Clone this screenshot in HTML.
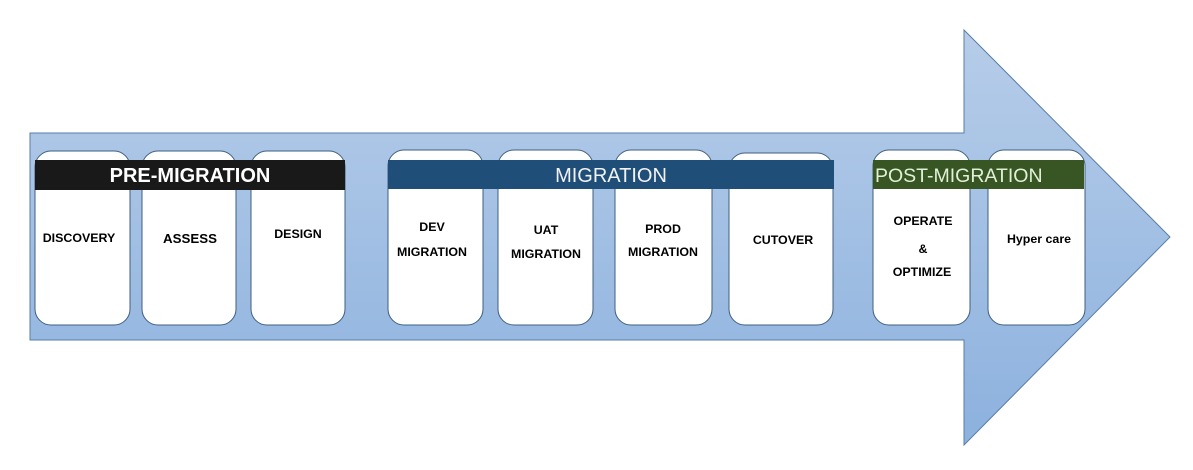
<!DOCTYPE html>
<html><head><meta charset="utf-8">
<style>
html,body{margin:0;padding:0;background:#fff;}
svg{display:block;}
text{font-family:"Liberation Sans",Arial,sans-serif;}
.b{font-weight:bold;fill:#000;font-size:12.4px;text-anchor:middle;}
</style></head>
<body>
<svg width="1193" height="470" viewBox="0 0 1193 470" xmlns="http://www.w3.org/2000/svg">
<defs>
<linearGradient id="g" x1="0" y1="30" x2="0" y2="445" gradientUnits="userSpaceOnUse">
<stop offset="0" stop-color="#b7cde9"/>
<stop offset="1" stop-color="#8cb1de"/>
</linearGradient>
</defs>
<polygon points="30,133 964,133 964,30 1170,237 964,445 964,340 30,340" fill="url(#g)" stroke="#5a7ea8" stroke-width="1"/>
<g fill="#fff" stroke="#3f5f80" stroke-width="1">
<rect x="35" y="151" width="95" height="174" rx="16"/>
<rect x="142" y="151" width="94" height="174" rx="16"/>
<rect x="251" y="151" width="94" height="174" rx="16"/>
<rect x="388" y="150" width="95" height="175" rx="16"/>
<rect x="498" y="150" width="95" height="175" rx="16"/>
<rect x="615" y="150" width="97" height="175" rx="16"/>
<rect x="729" y="153" width="104" height="172" rx="16"/>
<rect x="873" y="150" width="97" height="175" rx="16"/>
<rect x="988" y="150" width="97" height="175" rx="16"/>
</g>
<rect x="35" y="160" width="310" height="30" fill="#191919"/>
<text x="190" y="182" fill="#fff" font-size="20" font-weight="bold" text-anchor="middle">PRE-MIGRATION</text>
<rect x="388" y="160" width="446" height="29" fill="#1f4e79"/>
<text x="611" y="182" fill="#f2f2f2" font-size="20" text-anchor="middle">MIGRATION</text>
<rect x="873" y="160" width="211" height="29" fill="#375623"/>
<text x="875" y="182" fill="#e2efd9" font-size="19.5">POST-MIGRATION</text>

<text class="b" x="79" y="242">DISCOVERY</text>
<text class="b" x="190" y="243" style="font-size:13.3px">ASSESS</text>
<text class="b" x="298" y="238">DESIGN</text>
<text class="b" x="432" y="231">DEV</text>
<text class="b" x="432" y="256">MIGRATION</text>
<text class="b" x="546" y="234">UAT</text>
<text class="b" x="546" y="258">MIGRATION</text>
<text class="b" x="663" y="233">PROD</text>
<text class="b" x="663" y="256">MIGRATION</text>
<text class="b" x="783" y="244">CUTOVER</text>
<text class="b" x="923" y="225">OPERATE</text>
<text class="b" x="923" y="253">&amp;</text>
<text class="b" x="922" y="276">OPTIMIZE</text>
<text class="b" x="1039" y="243">Hyper care</text>
</svg>
</body></html>
